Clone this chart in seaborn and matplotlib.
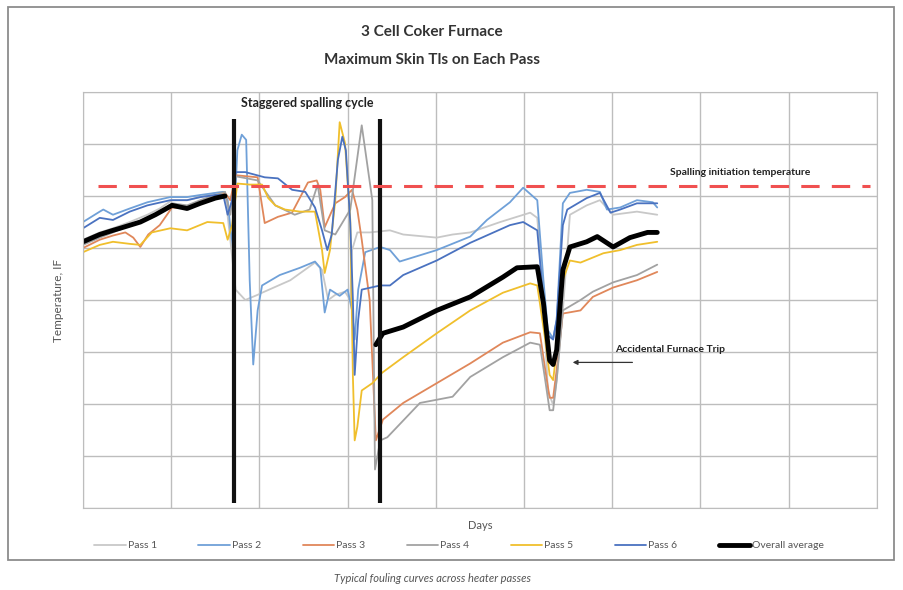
import matplotlib.pyplot as plt
import matplotlib.patches as mpatches
import pandas as pd
import seaborn as sns

sns.set_style("white")
plt.rcParams["font.family"] = ["Lato", "DejaVu Sans"]

# --------------------------------------------------------------- data
pass1_days = [0, 1.9, 3.4, 5.3, 7.3, 8.7, 10.1, 11.8, 13.3, 15.0, 16.1, 16.7, 17.3, 18.4, 19.8,
              20.3, 23.5, 26.3, 27.1, 27.8, 28.6, 29.7, 30.3, 30.5, 31.1, 32.5, 34.8, 36.3,
              40.1, 41.9, 43.9, 47.3, 50.7, 51.5, 52.2, 52.7, 53.3, 53.7, 54.4, 55.2, 57.1,
              58.6, 60.1, 62.8, 65.1]
pass1_temp = [1158, 1165, 1169, 1175, 1182, 1188, 1196, 1196, 1199, 1203, 1204, 1158, 1110, 1100,
              1105, 1107, 1119, 1136, 1129, 1100, 1105, 1108, 1100, 1148, 1165, 1165, 1167, 1163,
              1160, 1163, 1165, 1175, 1184, 1179, 1100, 1013, 999, 1023, 1090, 1182, 1191,
              1196, 1182, 1185, 1182]

pass2_days = [0, 1.9, 2.3, 3.4, 5.3, 7.3, 9.9, 11.8, 13.3, 15.0, 15.9, 16.4, 16.7, 17.0, 17.5,
              18.0, 18.5, 18.9, 19.3, 19.8, 20.3, 22.3, 24.6, 26.3, 26.9, 27.4, 28.0, 29.1,
              30.0, 30.5, 30.8, 31.2, 32.0, 33.7, 34.8, 35.9, 40.1, 43.9, 45.8, 48.4, 49.9,
              51.5, 52.2, 52.7, 53.3, 53.7, 54.4, 55.2, 57.1, 58.6, 59.4, 60.9, 62.8, 64.6, 65.1]
pass2_temp = [1175, 1185, 1187, 1182, 1188, 1194, 1199, 1199, 1201, 1203, 1204, 1196, 1170, 1151,
              1244, 1259, 1254, 1119, 1038, 1090, 1114, 1124, 1131, 1137, 1131, 1088, 1110, 1104,
              1110, 1090, 1062, 1110, 1146, 1151, 1148, 1137, 1148, 1161, 1177, 1194, 1208,
              1196, 1119, 1071, 1063, 1081, 1193, 1203, 1206, 1204, 1187, 1189, 1196, 1194, 1189]

pass3_days = [0, 1.9, 3.4, 4.8, 5.7, 6.5, 7.4, 8.7, 10.1, 11.8, 13.3, 15.0, 16.1, 16.7, 17.3,
              19.8, 20.6, 22.1, 23.7, 25.5, 26.5, 26.9, 27.4, 28.6, 29.7, 30.5, 31.1, 31.6,
              32.5, 33.2, 34.0, 36.3, 40.1, 43.9, 47.6, 50.7, 51.8, 52.4, 52.9, 53.3, 53.7,
              54.4, 56.4, 57.8, 60.1, 62.8, 65.1]
pass3_temp = [1150, 1158, 1162, 1165, 1160, 1151, 1163, 1172, 1189, 1188, 1194, 1200, 1203, 1196,
              1220, 1218, 1174, 1180, 1184, 1213, 1215, 1206, 1170, 1193, 1199, 1206, 1187, 1158,
              1100, 965, 985, 1001, 1020, 1039, 1059, 1069, 1068, 1033, 1006, 1006, 1033,
              1087, 1090, 1103, 1112, 1119, 1127]

pass4_days = [0, 1.9, 3.4, 5.3, 7.3, 8.7, 10.1, 11.8, 13.3, 15.0, 16.1, 16.7, 17.3, 19.8, 21.8,
              24.0, 25.7, 26.6, 27.4, 28.6, 30.3, 31.6, 32.8, 33.1, 33.7, 34.5, 38.2, 41.9,
              43.9, 47.6, 50.7, 51.8, 52.4, 52.9, 53.3, 53.7, 54.4, 56.4, 57.8, 60.1, 62.8, 65.1]
pass4_temp = [1153, 1160, 1165, 1172, 1179, 1185, 1193, 1191, 1196, 1201, 1204, 1182, 1219, 1215,
              1191, 1182, 1187, 1211, 1167, 1163, 1187, 1268, 1196, 937, 965, 968, 1001, 1007,
              1026, 1045, 1059, 1057, 1023, 994, 994, 1023, 1090, 1100, 1108, 1117, 1124, 1134]

pass5_days = [0, 1.9, 3.4, 5.3, 6.5, 7.8, 9.9, 11.8, 14.1, 15.9, 16.4, 16.9, 17.5, 18.9, 20.3,
              21.0, 21.8, 22.9, 24.6, 26.3, 27.1, 27.4, 28.0, 28.6, 29.1, 29.7, 30.3, 30.6,
              30.8, 31.1, 31.6, 32.8, 33.9, 36.3, 40.1, 43.9, 47.6, 50.7, 51.5, 52.4, 52.9,
              53.3, 53.7, 54.4, 55.2, 56.4, 59.0, 60.9, 62.8, 65.1]
pass5_temp = [1146, 1153, 1156, 1154, 1153, 1165, 1169, 1167, 1175, 1174, 1158, 1172, 1212, 1211,
              1211, 1198, 1191, 1187, 1185, 1185, 1148, 1126, 1148, 1196, 1271, 1251, 1177, 1026,
              965, 978, 1013, 1020, 1030, 1045, 1068, 1090, 1107, 1116, 1114, 1062, 1028,
              1023, 1052, 1119, 1138, 1136, 1145, 1148, 1153, 1156]

pass6_days = [0, 1.9, 3.4, 5.3, 7.3, 9.9, 11.8, 13.3, 15.0, 15.9, 16.4, 16.9, 17.3, 18.4, 20.6,
              22.1, 23.7, 25.2, 26.3, 27.1, 27.7, 28.2, 28.9, 29.4, 29.8, 30.3, 30.6, 30.8,
              31.2, 31.6, 33.7, 34.8, 36.3, 40.1, 43.9, 48.4, 49.9, 51.5, 52.2, 52.7, 53.3,
              53.7, 54.4, 54.9, 57.1, 58.6, 59.8, 60.9, 62.8, 65.1]
pass6_temp = [1169, 1179, 1177, 1185, 1191, 1196, 1196, 1199, 1201, 1201, 1182, 1196, 1223, 1223,
              1218, 1217, 1206, 1204, 1189, 1167, 1148, 1163, 1235, 1257, 1244, 1174, 1100, 1028,
              1081, 1110, 1114, 1114, 1124, 1138, 1155, 1172, 1175, 1167, 1100, 1066, 1062,
              1081, 1172, 1187, 1198, 1203, 1184, 1187, 1193, 1193]

# overall average is not plotted during the spalling cycle
avg_pre_days = [0, 1.9, 3.4, 4.2, 6.5, 8.2, 10.1, 11.8, 13.3, 15.0, 16.1]
avg_pre_temp = [1156, 1163, 1167, 1169, 1175, 1182, 1191, 1188, 1193, 1198, 1200]
avg_post_days = [33.2, 34.0, 36.3, 40.1, 43.9, 47.6, 49.2, 51.5, 52.2, 52.9, 53.3, 53.7, 54.4,
                 55.2, 57.1, 58.3, 60.1, 62.0, 64.0, 65.1]
avg_post_temp = [1057, 1068, 1074, 1090, 1103, 1122, 1131, 1132, 1097, 1042, 1038, 1052, 1129,
                 1151, 1156, 1161, 1151, 1160, 1165, 1165]

spall_days = [17.1, 33.7]           # start / end of staggered spalling cycle
spall_initiation_temp = 1210

series = [
    ("Pass 1", pass1_days, pass1_temp, "#c8c8c8"),
    ("Pass 2", pass2_days, pass2_temp, "#6fa0d8"),
    ("Pass 3", pass3_days, pass3_temp, "#e0875a"),
    ("Pass 4", pass4_days, pass4_temp, "#a2a2a2"),
    ("Pass 5", pass5_days, pass5_temp, "#f0bf2c"),
    ("Pass 6", pass6_days, pass6_temp, "#4a72c0"),
]

# --------------------------------------------------------------- figure
fig = plt.figure(figsize=(9.04, 5.9), dpi=100)
ax = fig.add_axes([0.0918, 0.139, 0.8782, 0.705])

for name, days, temp, color in series:
    df = pd.DataFrame({"day": days, "temp": temp})
    sns.lineplot(data=df, x="day", y="temp", color=color, linewidth=1.3,
                 estimator=None, sort=False, legend=False, label=name, ax=ax)

for i, (d, t) in enumerate([(avg_pre_days, avg_pre_temp), (avg_post_days, avg_post_temp)]):
    df = pd.DataFrame({"day": d, "temp": t})
    sns.lineplot(data=df, x="day", y="temp", color="black", linewidth=3.5,
                 estimator=None, sort=False, legend=False,
                 label="Overall average" if i == 0 else "_nolegend_", ax=ax)

for d in spall_days:
    ax.plot([d, d], [905, 1274], color="#111111", linewidth=3.0, solid_capstyle="butt")

ax.plot([1.7, 89.2], [spall_initiation_temp] * 2, color="#f05050",
        linewidth=2.2, dashes=(6, 4))

ax.text(25.4, 1289, "Staggered spalling cycle", ha="center", va="center",
        fontsize=9, fontweight="bold", color="#222222")
ax.text(74.5, 1223, "Spalling initiation temperature", ha="center", va="center",
        fontsize=7.5, fontweight="bold", color="#222222")
ax.text(66.6, 1052, "Accidental Furnace Trip", ha="center", va="center",
        fontsize=7.5, fontweight="bold", color="#222222")
ax.annotate("", xy=(55.2, 1040), xytext=(62.6, 1040),
            arrowprops=dict(arrowstyle="-|>", color="#333333", lw=0.9, mutation_scale=7))

ax.set_xlim(0, 90)
ax.set_ylim(900, 1300)
ax.set_xticks(range(0, 91, 10))
ax.set_yticks(range(900, 1301, 50))
ax.tick_params(length=0, labelbottom=False, labelleft=False)
ax.grid(True, color="#bdbdbd", linewidth=1.0)
for s in ax.spines.values():
    s.set_color("#bdbdbd")
ax.set_xlabel("Days", fontsize=8, color="#555555", labelpad=9)
ax.set_ylabel("Temperature, IF", fontsize=8.5, color="#555555", labelpad=14)

fig.text(0.478, 0.945, "3 Cell Coker Furnace", ha="center", va="center",
         fontsize=11, fontweight="bold", color="#333333")
fig.text(0.478, 0.899, "Maximum Skin Tls on Each Pass", ha="center", va="center",
         fontsize=11, fontweight="bold", color="#333333")

handles, labels = ax.get_legend_handles_labels()
leg = fig.legend(handles, labels, loc="center", bbox_to_anchor=(0.508, 0.075), ncol=7,
                 frameon=False, fontsize=7.5, handlelength=3.0, columnspacing=4.0,
                 handletextpad=0.2, labelcolor="#555555")

# chart-area border and caption underneath
fig.patches.append(mpatches.Rectangle((0.009, 0.051), 0.98, 0.937, transform=fig.transFigure,
                                      fill=False, edgecolor="#8c8c8c", linewidth=1.3))
fig.text(0.478, 0.02, "Typical fouling curves across heater passes", ha="center",
         va="center", fontsize=8, style="italic", color="#555555")

plt.savefig("out.png", dpi=100)
plt.close()
